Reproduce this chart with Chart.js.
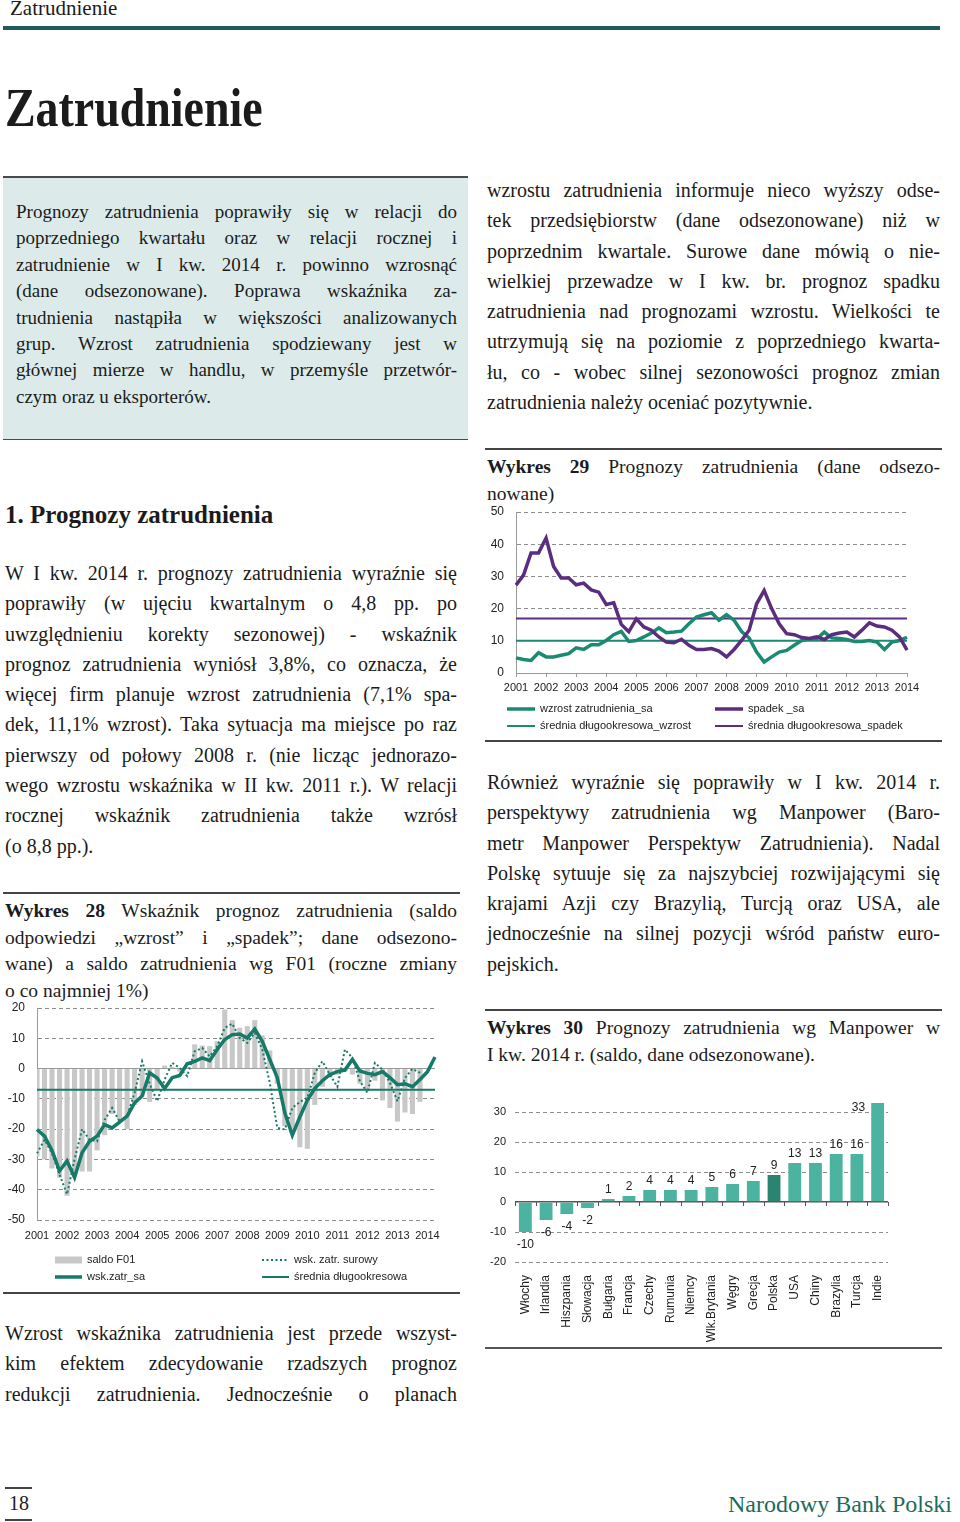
<!DOCTYPE html>
<html lang="pl">
<head>
<meta charset="utf-8">
<title>Zatrudnienie</title>
<script src="https://cdn.jsdelivr.net/npm/chart.js@4.4.1/dist/chart.umd.min.js"></script>
<style>
html, body { margin: 0; padding: 0; background: #fff; }
body {
    width: 960px; height: 1522px; position: relative; overflow: hidden;
    font-family: "Liberation Serif", "DejaVu Serif", serif; color: #1b1b1b;
}
.abs { position: absolute; }
.txt div { text-align: justify; text-align-last: justify; }
.txt div.last { text-align-last: left; }
.rule { position: absolute; background: #444; }
.box { position: absolute; left: 3px; top: 176px; width: 465px; height: 264px; background: #dcebe9; border-top: 2px solid #4a4a4a; border-bottom: 1px solid #4a4a4a; box-sizing: border-box; }
.chart { position: absolute; }
</style>
</head>
<body>

<div class="abs" style="left:10px;top:-3px;font-size:21px;line-height:22px;">Zatrudnienie</div>
<div class="abs" style="left:3px;top:26px;width:937px;height:4px;background:#1f5c5a;"></div>

<div class="abs" style="left:5px;top:78px;font-size:54px;line-height:60px;font-weight:bold;transform:scaleX(0.85);transform-origin:0 0;">Zatrudnienie</div>

<div class="box"></div>
<div class="abs txt" style="left:16px;top:199px;width:441px;font-size:19px;line-height:26.4px;">
    <div>Prognozy zatrudnienia poprawiły się w relacji do</div>
    <div>poprzedniego kwartału oraz w relacji rocznej i</div>
    <div>zatrudnienie w I kw. 2014 r. powinno wzrosnąć</div>
    <div>(dane odsezonowane). Poprawa wskaźnika za-</div>
    <div>trudnienia nastąpiła w większości analizowanych</div>
    <div>grup. Wzrost zatrudnienia spodziewany jest w</div>
    <div>głównej mierze w handlu, w przemyśle przetwór-</div>
    <div class="last">czym oraz u eksporterów.</div>
</div>

<div class="abs txt" style="left:487px;top:175px;width:453px;font-size:20px;line-height:30.3px;">
    <div>wzrostu zatrudnienia informuje nieco wyższy odse-</div>
    <div>tek przedsiębiorstw (dane odsezonowane) niż w</div>
    <div>poprzednim kwartale. Surowe dane mówią o nie-</div>
    <div>wielkiej przewadze w I kw. br. prognoz spadku</div>
    <div>zatrudnienia nad prognozami wzrostu. Wielkości te</div>
    <div>utrzymują się na poziomie z poprzedniego kwarta-</div>
    <div>łu, co - wobec silnej sezonowości prognoz zmian</div>
    <div class="last">zatrudnienia należy oceniać pozytywnie.</div>
</div>

<div class="abs" style="left:5px;top:500px;font-size:25px;line-height:30px;font-weight:bold;">1. Prognozy zatrudnienia</div>

<div class="abs txt" style="left:5px;top:558px;width:452px;font-size:20px;line-height:30.3px;">
    <div>W I kw. 2014 r. prognozy zatrudnienia wyraźnie się</div>
    <div>poprawiły (w ujęciu kwartalnym o 4,8 pp. po</div>
    <div>uwzględnieniu korekty sezonowej) - wskaźnik</div>
    <div>prognoz zatrudnienia wyniósł 3,8%, co oznacza, że</div>
    <div>więcej firm planuje wzrost zatrudnienia (7,1% spa-</div>
    <div>dek, 11,1% wzrost). Taka sytuacja ma miejsce po raz</div>
    <div>pierwszy od połowy 2008 r. (nie licząc jednorazo-</div>
    <div>wego wzrostu wskaźnika w II kw. 2011 r.). W relacji</div>
    <div>rocznej wskaźnik zatrudnienia także wzrósł</div>
    <div class="last">(o 8,8 pp.).</div>
</div>

<div class="rule" style="left:3px;top:892px;width:457px;height:1.5px;"></div>
<div class="abs txt" style="left:5px;top:898px;width:452px;font-size:19.5px;line-height:26.5px;">
    <div><b>Wykres 28</b> Wskaźnik prognoz zatrudnienia (saldo</div>
    <div>odpowiedzi „wzrost” i „spadek”; dane odsezono-</div>
    <div>wane) a saldo zatrudnienia wg F01 (roczne zmiany</div>
    <div class="last">o co najmniej 1%)</div>
</div>
<div class="chart" style="left:0px;top:1000px;width:460px;height:292px;"><canvas id="chart28"></canvas></div>
<div class="rule" style="left:3px;top:1292px;width:457px;height:1.5px;"></div>

<div class="abs txt" style="left:5px;top:1318px;width:452px;font-size:20px;line-height:30.3px;">
    <div>Wzrost wskaźnika zatrudnienia jest przede wszyst-</div>
    <div>kim efektem zdecydowanie rzadszych prognoz</div>
    <div>redukcji zatrudnienia. Jednocześnie o planach</div>
</div>

<div class="rule" style="left:485px;top:448px;width:457px;height:1.5px;"></div>
<div class="abs txt" style="left:487px;top:454px;width:453px;font-size:19.5px;line-height:26.5px;">
    <div><b>Wykres 29</b> Prognozy zatrudnienia (dane odsezo-</div>
    <div class="last">nowane)</div>
</div>
<div class="chart" style="left:485px;top:500px;width:460px;height:240px;"><canvas id="chart29"></canvas></div>
<div class="rule" style="left:485px;top:740px;width:457px;height:1.5px;"></div>

<div class="abs txt" style="left:487px;top:767px;width:453px;font-size:20px;line-height:30.3px;">
    <div>Również wyraźnie się poprawiły w I kw. 2014 r.</div>
    <div>perspektywy zatrudnienia wg Manpower (Baro-</div>
    <div>metr Manpower Perspektyw Zatrudnienia). Nadal</div>
    <div>Polskę sytuuje się za najszybciej rozwijającymi się</div>
    <div>krajami Azji czy Brazylią, Turcją oraz USA, ale</div>
    <div>jednocześnie na silnej pozycji wśród państw euro-</div>
    <div class="last">pejskich.</div>
</div>

<div class="rule" style="left:485px;top:1009px;width:457px;height:1.5px;"></div>
<div class="abs txt" style="left:487px;top:1015px;width:453px;font-size:19.5px;line-height:26.5px;">
    <div><b>Wykres 30</b> Prognozy zatrudnienia wg Manpower w</div>
    <div class="last">I kw. 2014 r. (saldo, dane odsezonowane).</div>
</div>
<div class="chart" style="left:485px;top:1092px;width:460px;height:255px;"><canvas id="chart30"></canvas></div>
<div class="rule" style="left:485px;top:1347px;width:457px;height:2px;background:#555;"></div>

<div class="rule" style="left:5px;top:1487px;width:27px;height:1.5px;"></div>
<div class="abs" style="left:9px;top:1492px;font-size:20px;line-height:22px;">18</div>
<div class="rule" style="left:5px;top:1519px;width:27px;height:1.5px;"></div>
<div class="abs" style="left:728px;top:1490px;font-size:24px;line-height:28px;color:#1d6b5b;">Narodowy Bank Polski</div>

<script>
// --- dane ---
const years = [2001, 2002, 2003, 2004, 2005, 2006, 2007, 2008, 2009, 2010, 2011, 2012, 2013, 2014];
const quarterNames = ['I', 'II', 'III', 'IV'];
const allQuarters = years.flatMap(y => quarterNames.map(q => q + ' kw. ' + y));
const quarters28 = allQuarters.slice(0, 54);
const quarters29 = allQuarters.slice(0, 53);

// Wykres 28
const saldoF01 = [-29, -30, -33, -36, -42, -35, -34, -34, -27, -22, -15, -17, -20, -12, -9, -11, -7, 1, 0.5, -1,
    0.5, 8, 7.6, 7.4, 9, 19.5, 16, 13.5, 14, 16, 11, 6, -5, -19, -21, -26, -26.5, -12, -6, -3,
    -2, -1, -2, -5, -7, -4, -10.5, -13, -17.5, -14.5, -15, -11, null, null];
const wskSurowy = [-28, -23.5, -28, -35, -41.5, -30, -20, -23.5, -24, -17, -13, -17.4, -15.7, -8, 2.4, -5, -10.8, -3.6, 1.9, 0.2,
    -2.5, 5.7, 6.8, 4, 7.4, 13.4, 14.8, 10.1, 8.5, 11.8, 6.3, -4.7, -19.6, -20.1, -13, -11, -9.7, -1.4, 2.4, -2,
    -6, 6.3, 3.5, -4.2, -8, 1.9, -0.3, -4.7, -10.8, -3.1, -0.1, -1.4, null, null];
const wskSa = [-20.1, -22.3, -27, -33.8, -30.5, -36, -27.8, -24, -22.3, -18.5, -19.6, -17.7, -15.7, -11.3, -9.1, -1.4, -3.1, -6.6, -3, -2.3,
    1.6, 2.4, 3.5, 2.6, 6.3, 9.6, 11.2, 11.4, 10.1, 13.1, 9, 3, -3, -14.6, -22, -16, -10.5, -6.5, -4, -2,
    -1, -0.5, 3, -0.8, -1.6, -2, -1, -3, -5.3, -5, -6, -3.6, -1, 3.8];
const sredniaWsk = -7;

// Wykres 29
const wzrostSa = [4.7, 4.2, 3.9, 6.3, 5.0, 5.0, 5.5, 6.0, 7.8, 7.3, 8.8, 8.8, 10.1, 11.9, 12.9, 9.8, 10.1, 11.2, 12.4, 14.0,
    12.5, 12.7, 13.0, 15.3, 17.4, 18.1, 18.7, 16.4, 18.1, 16.4, 12.9, 10.9, 6.5, 3.4, 5.0, 6.5, 7.0, 8.6, 10.1, 10.6,
    10.6, 12.7, 10.9, 10.7, 10.4, 9.8, 9.8, 10.1, 9.6, 7.3, 9.6, 10.1, 11.1];
const spadekSa = [27.3, 30.4, 37.3, 37.3, 41.9, 33.1, 29.5, 29.5, 27.4, 27.9, 25.8, 25.1, 21.3, 21.8, 15.1, 12.8, 16.8, 14.3, 13.3, 11.2,
    9.6, 9.4, 10.5, 8.6, 7.3, 7.3, 7.6, 6.8, 5.0, 7.3, 10.1, 13.3, 21.5, 25.6, 20.0, 15.3, 12.2, 11.9, 11.0, 10.7,
    11.2, 10.4, 11.9, 12.4, 12.7, 11.2, 13.3, 15.6, 14.6, 14.3, 13.3, 11.2, 7.1];
const sredniaWzrost = 10;
const sredniaSpadek = 16.9;

// Wykres 30
const countries = ['Włochy', 'Irlandia', 'Hiszpania', 'Słowacja', 'Bułgaria', 'Francja', 'Czechy', 'Rumunia', 'Niemcy',
    'Wlk.Brytania', 'Węgry', 'Grecja', 'Polska', 'USA', 'Chiny', 'Brazylia', 'Turcja', 'Indie'];
const manpower = [-10, -6, -4, -2, 1, 2, 4, 4, 4, 5, 6, 7, 9, 13, 13, 16, 16, 33];
const manpowerTicks = [-20, -10, 0, 10, 20, 30];

// --- style ---
const TEAL = '#167a68';
const TEAL2 = '#1b8a72';
const PURPLE = '#5b2d7f';
const GREY_GRID = '#8c8c8c';

Chart.defaults.font.family = '"Liberation Sans", Arial, sans-serif';
Chart.defaults.font.size = 11;
Chart.defaults.color = '#222';
Chart.defaults.animation = false;

function yearTick(value, index) {
    return index % 4 === 0 ? this.getLabelForValue(value).slice(-4) : '';
}

// stała szerokość osi Y, bez dodatkowego marginesu na etykiety
const fixY = w => s => { s.width = w; s.paddingTop = 0; s.paddingBottom = 0; };
const fixX = h => s => { s.height = h; s.paddingLeft = 0; s.paddingRight = 0; };

// legenda w dwóch kolumnach, rysowana pod osią
const gridLegend = {
    id: 'gridLegend',
    afterDraw(chart, args, opts) {
        if (!opts.items) return;
        const ctx = chart.ctx;
        ctx.save();
        ctx.font = '11px "Liberation Sans", Arial, sans-serif';
        ctx.textBaseline = 'middle';
        opts.items.forEach(it => {
            const ds = chart.data.datasets[it.dataset];
            const w = it.w || 27;
            if (ds.type === 'bar') {
                ctx.fillStyle = ds.backgroundColor;
                ctx.fillRect(it.x, it.y - 3.5, w, 7);
            } else {
                ctx.strokeStyle = ds.borderColor;
                ctx.lineWidth = ds.borderWidth;
                ctx.setLineDash(ds.borderDash || []);
                ctx.beginPath();
                ctx.moveTo(it.x, it.y);
                ctx.lineTo(it.x + w, it.y);
                ctx.stroke();
                ctx.setLineDash([]);
            }
            ctx.fillStyle = '#222';
            ctx.fillText(ds.label, it.x + w + 5, it.y);
        });
        ctx.restore();
    }
};

// wartości przy słupkach
const barValues = {
    id: 'barValues',
    afterDatasetsDraw(chart, args, opts) {
        if (!opts.show) return;
        const ctx = chart.ctx;
        const meta = chart.getDatasetMeta(0);
        const data = chart.data.datasets[0].data;
        ctx.save();
        ctx.font = '12px "Liberation Sans", Arial, sans-serif';
        ctx.fillStyle = '#222';
        meta.data.forEach((bar, i) => {
            const v = data[i];
            ctx.textAlign = 'center';
            if (v < 0) {
                ctx.textBaseline = 'top';
                ctx.fillText(String(v), bar.x, bar.y + 7);
            } else if (bar.y - 17 < chart.chartArea.top) {
                ctx.textAlign = 'right';
                ctx.textBaseline = 'top';
                ctx.fillText(String(v), bar.x - bar.width / 2 - 6, bar.y - 1);
            } else {
                ctx.textBaseline = 'bottom';
                ctx.fillText(String(v), bar.x, bar.y - 3);
            }
        });
        ctx.restore();
    }
};

// kreski na linii zera między kategoriami
const zeroTicks = {
    id: 'zeroTicks',
    afterDatasetsDraw(chart, args, opts) {
        if (!opts.show) return;
        const {ctx, chartArea} = chart;
        const y0 = chart.scales.y.getPixelForValue(0);
        const n = chart.data.labels.length;
        const step = (chartArea.right - chartArea.left) / n;
        ctx.save();
        ctx.strokeStyle = '#555';
        ctx.lineWidth = 1;
        ctx.beginPath();
        for (let i = 0; i <= n; i++) {
            const x = Math.round(chartArea.left + i * step) + 0.5;
            ctx.moveTo(x, y0);
            ctx.lineTo(x, y0 + 4);
        }
        ctx.stroke();
        ctx.restore();
    }
};

// --- Wykres 28 ---
new Chart(document.getElementById('chart28'), {
    type: 'bar',
    data: {
        labels: quarters28,
        datasets: [
            {
                type: 'bar', label: 'saldo F01', data: saldoF01,
                backgroundColor: '#c8c8c8', barPercentage: 0.68, categoryPercentage: 1, order: 4
            },
            {
                type: 'line', label: 'wsk. zatr. surowy', data: wskSurowy,
                borderColor: TEAL, borderWidth: 2, borderDash: [2, 2.5], pointRadius: 0, order: 3
            },
            {
                type: 'line', label: 'wsk.zatr_sa', data: wskSa,
                borderColor: TEAL, borderWidth: 3.5, pointRadius: 0, order: 1
            },
            {
                type: 'line', label: 'średnia długookresowa',
                data: [{x: quarters28[0], y: sredniaWsk}, {x: quarters28[quarters28.length - 1], y: sredniaWsk}],
                borderColor: TEAL, borderWidth: 2, pointRadius: 0, order: 2
            }
        ]
    },
    options: {
        responsive: true,
        maintainAspectRatio: false,
        layout: { padding: { top: 8, right: 25, left: 0, bottom: 0 } },
        plugins: {
            legend: { display: false },
            tooltip: { enabled: false },
            gridLegend: {
                items: [
                    { dataset: 0, x: 55, y: 260 },
                    { dataset: 1, x: 262, y: 260 },
                    { dataset: 2, x: 55, y: 277 },
                    { dataset: 3, x: 262, y: 277 }
                ]
            }
        },
        scales: {
            x: {
                offset: false,
                grid: { display: false, drawTicks: false },
                border: { display: false },
                ticks: { autoSkip: false, maxRotation: 0, padding: 9, callback: yearTick },
                afterFit: fixX(72)
            },
            y: {
                min: -50, max: 20,
                ticks: { stepSize: 10, padding: 12, font: { size: 12 } },
                grid: {
                    drawTicks: false,
                    color: c => c.tick && c.tick.value === 0 ? '#9a9a9a' : GREY_GRID
                },
                border: {
                    display: true, color: '#9a9a9a',
                    dash: c => c.tick && c.tick.value === 0 ? [] : [4, 3]
                },
                afterFit: fixY(37)
            }
        }
    },
    plugins: [gridLegend]
});

// --- Wykres 29 ---
new Chart(document.getElementById('chart29'), {
    type: 'line',
    data: {
        labels: quarters29,
        datasets: [
            {
                label: 'wzrost zatrudnienia_sa', data: wzrostSa,
                borderColor: TEAL2, borderWidth: 3.5, pointRadius: 0, order: 2
            },
            {
                label: 'spadek _sa', data: spadekSa,
                borderColor: PURPLE, borderWidth: 3.5, pointRadius: 0, order: 1
            },
            {
                label: 'średnia długookresowa_wzrost',
                data: [{x: quarters29[0], y: sredniaWzrost}, {x: quarters29[quarters29.length - 1], y: sredniaWzrost}],
                borderColor: TEAL2, borderWidth: 2, pointRadius: 0, order: 3
            },
            {
                label: 'średnia długookresowa_spadek',
                data: [{x: quarters29[0], y: sredniaSpadek}, {x: quarters29[quarters29.length - 1], y: sredniaSpadek}],
                borderColor: PURPLE, borderWidth: 2, pointRadius: 0, order: 3
            }
        ]
    },
    options: {
        responsive: true,
        maintainAspectRatio: false,
        layout: { padding: { top: 12, right: 38, left: 0, bottom: 0 } },
        plugins: {
            legend: { display: false },
            tooltip: { enabled: false },
            gridLegend: {
                items: [
                    { dataset: 0, x: 22, y: 209, w: 28 },
                    { dataset: 1, x: 230, y: 209, w: 28 },
                    { dataset: 2, x: 22, y: 226, w: 28 },
                    { dataset: 3, x: 230, y: 226, w: 28 }
                ]
            }
        },
        scales: {
            x: {
                offset: false,
                grid: {
                    drawOnChartArea: false, drawTicks: true, tickLength: 4,
                    color: c => c.index % 4 === 0 ? '#9a9a9a' : 'rgba(0,0,0,0)'
                },
                border: { display: true, color: '#9a9a9a' },
                ticks: { autoSkip: false, maxRotation: 0, padding: 4, callback: yearTick },
                afterFit: fixX(67)
            },
            y: {
                min: 0, max: 50,
                ticks: { stepSize: 10, padding: 12, font: { size: 12 } },
                grid: {
                    drawTicks: false,
                    color: c => c.tick && c.tick.value === 0 ? 'rgba(0,0,0,0)' : GREY_GRID
                },
                border: { display: true, color: '#9a9a9a', dash: [4, 3] },
                afterFit: fixY(31)
            }
        }
    },
    plugins: [gridLegend]
});

// --- Wykres 30 ---
new Chart(document.getElementById('chart30'), {
    type: 'bar',
    data: {
        labels: countries,
        datasets: [{
            label: 'saldo',
            data: manpower,
            backgroundColor: countries.map(c => c === 'Polska' ? '#2b8470' : '#4cb3a0'),
            barPercentage: 0.62,
            categoryPercentage: 1
        }]
    },
    options: {
        responsive: true,
        maintainAspectRatio: false,
        layout: { padding: { top: 8, right: 57, left: 0, bottom: 0 } },
        plugins: {
            legend: { display: false },
            tooltip: { enabled: false },
            barValues: { show: true },
            zeroTicks: { show: true }
        },
        scales: {
            x: {
                grid: { display: false, drawTicks: false },
                border: { display: false },
                ticks: { autoSkip: false, minRotation: 90, maxRotation: 90, padding: 13, font: { size: 12 } },
                afterFit: fixX(85)
            },
            y: {
                min: -20, max: 34,
                afterBuildTicks: axis => { axis.ticks = manpowerTicks.map(v => ({ value: v })); },
                ticks: { padding: 9 },
                grid: {
                    drawTicks: false,
                    color: c => c.tick && c.tick.value === 0 ? '#555' : GREY_GRID,
                    lineWidth: c => c.tick && c.tick.value === 0 ? 1.5 : 1
                },
                border: {
                    display: false,
                    dash: c => c.tick && c.tick.value === 0 ? [] : [4, 3]
                },
                afterFit: fixY(30)
            }
        }
    },
    plugins: [barValues, zeroTicks]
});
</script>
</body>
</html>
